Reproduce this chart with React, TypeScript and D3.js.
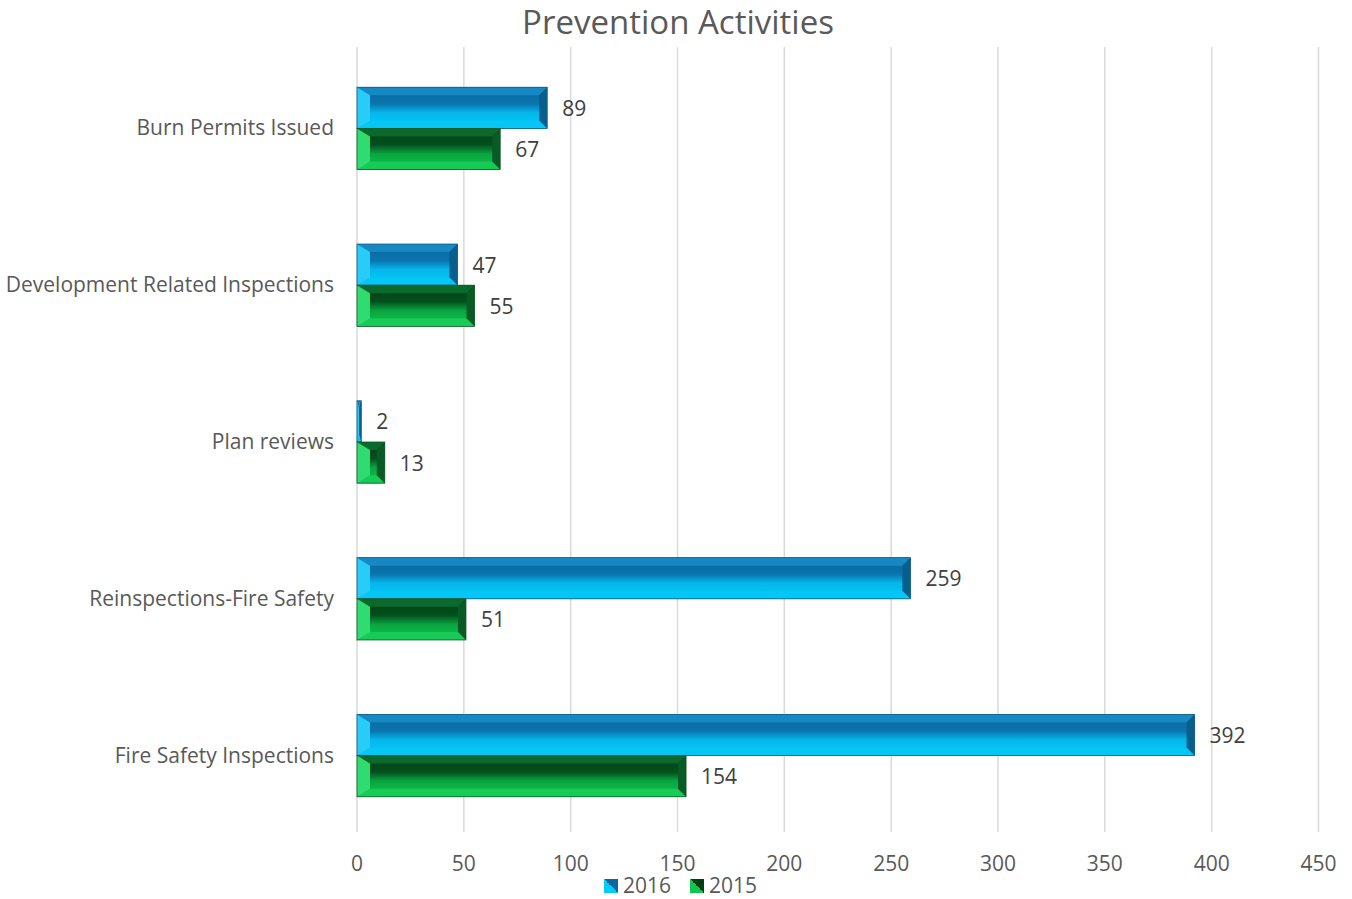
import React from "react";
import * as d3 from "d3";

const categories = [
  "Burn Permits Issued",
  "Development Related Inspections",
  "Plan reviews",
  "Reinspections-Fire Safety",
  "Fire Safety Inspections",
];
const seriesNames = ["2016", "2015"];
const values2016 = [89, 47, 2, 259, 392];
const values2015 = [67, 55, 13, 51, 154];
const xTicks = [0, 50, 100, 150, 200, 250, 300, 350, 400, 450];

const W = 1352;
const H = 899;
const margin = { left: 357, right: 34, top: 50, bottom: 65 };

const palettes: Record<string, any> = {
  "2016": {
    gTop: "#0a689e",
    gMid: "#0a74ad",
    gMid2: "#06b6ea",
    gBot: "#00cdfc",
    topBevel: "#1688c4",
    leftBevel: "#28ccf8",
    rightBevel: "#085f8e",
    bottomBevel: "#05c6f6",
    stroke: "#0a5a86",
  },
  "2015": {
    gTop: "#003d13",
    gMid: "#03501e",
    gMid2: "#0aa540",
    gBot: "#12c550",
    topBevel: "#0a6a2c",
    leftBevel: "#30dc70",
    rightBevel: "#0a5a26",
    bottomBevel: "#16cc56",
    stroke: "#0a5a26",
  },
};

function BevelBar({ x, y, w, h, name }: any) {
  const p = palettes[name];
  const bx = Math.max(0, Math.min(13, w / 2));
  const by = Math.max(0, Math.min(8, h / 2));
  const x2 = x + w;
  const y2 = y + h;
  const rb = Math.max(0, Math.min(8, w / 2));
  const pts = (arr: number[][]) => arr.map((q) => q.join(",")).join(" ");
  return (
    <g>
      <rect x={x} y={y} width={w} height={h} fill={`url(#grad${name})`} />
      <polygon points={pts([[x, y], [x2, y], [x2 - rb, y + by], [x + bx, y + by]])} fill={p.topBevel} />
      <polygon points={pts([[x, y2], [x2, y2], [x2 - rb, y2 - by], [x + bx, y2 - by]])} fill={p.bottomBevel} />
      <polygon points={pts([[x, y], [x + bx, y + by], [x + bx, y2 - by], [x, y2]])} fill={p.leftBevel} />
      <polygon points={pts([[x2, y], [x2 - rb, y + by], [x2 - rb, y2 - by], [x2, y2]])} fill={p.rightBevel} />
      <rect x={x} y={y} width={w} height={h} fill="none" stroke={p.stroke} strokeWidth={0.8} />
    </g>
  );
}

export default function App() {
  const x = d3
    .scaleLinear()
    .domain([0, 450])
    .range([margin.left, W - margin.right + 0.5]);
  const y = d3
    .scaleBand<string>()
    .domain(categories)
    .range([margin.top, H - margin.bottom])
    .paddingInner(0.475)
    .paddingOuter(0.2375);
  const ySub = d3.scaleBand<string>().domain(seriesNames).range([0, y.bandwidth()]).padding(0);
  const series: Record<string, number[]> = { "2016": values2016, "2015": values2015 };
  const font = "'Open Sans', 'Segoe UI', sans-serif";
  const textColor = "#595959";

  return (
    <svg width={W} height={H} style={{ position: "absolute", left: 0, top: 0, background: "#fff" }} fontFamily={font}>
      <defs>
        {seriesNames.map((n) => (
          <linearGradient key={n} id={`grad${n}`} x1="0" y1="0" x2="0" y2="1">
            <stop offset="0%" stopColor={palettes[n].gTop} />
            <stop offset="40%" stopColor={palettes[n].gMid} />
            <stop offset="62%" stopColor={palettes[n].gMid2} />
            <stop offset="100%" stopColor={palettes[n].gBot} />
          </linearGradient>
        ))}
        {seriesNames.map((n) => (
          <linearGradient key={"l" + n} id={`leg${n}`} x1="0" y1="1" x2="1" y2="0">
            <stop offset="50%" stopColor={palettes[n].gBot} />
            <stop offset="50%" stopColor={palettes[n].gTop} />
          </linearGradient>
        ))}
      </defs>
      <text x={678} y={34} textAnchor="middle" fontSize={33} fill={textColor}>
        Prevention Activities
      </text>
      {xTicks.map((t) => (
        <line key={t} x1={x(t)} x2={x(t)} y1={47} y2={832} stroke="#d9d9d9" strokeWidth={1.5} />
      ))}
      {xTicks.map((t) => (
        <text key={"t" + t} x={x(t)} y={871} textAnchor="middle" fontSize={21} fill={textColor}>
          {t}
        </text>
      ))}
      {categories.map((c) => (
        <text
          key={c}
          x={334}
          y={(y(c) as number) + y.bandwidth() / 2 - 1}
          textAnchor="end"
          dominantBaseline="central"
          fontSize={21}
          fill={textColor}
        >
          {c}
        </text>
      ))}
      {categories.map((c, i) =>
        seriesNames.map((n) => {
          const v = series[n][i];
          const by = (y(c) as number) + (ySub(n) as number);
          const bh = ySub.bandwidth();
          return (
            <g key={c + n}>
              <BevelBar x={x(0)} y={by} w={x(v) - x(0)} h={bh} name={n} />
              <text x={x(v) + 15} y={by + bh / 2} dominantBaseline="central" fontSize={21} fill="#404040">
                {v}
              </text>
            </g>
          );
        })
      )}
      {seriesNames.map((n, i) => {
        const lx = 604 + i * 86;
        return (
          <g key={"lg" + n}>
            <rect x={lx} y={879} width={14} height={14} fill={`url(#leg${n})`} />
            <text x={lx + 19} y={893} fontSize={21} fill={textColor}>
              {n}
            </text>
          </g>
        );
      })}
    </svg>
  );
}
